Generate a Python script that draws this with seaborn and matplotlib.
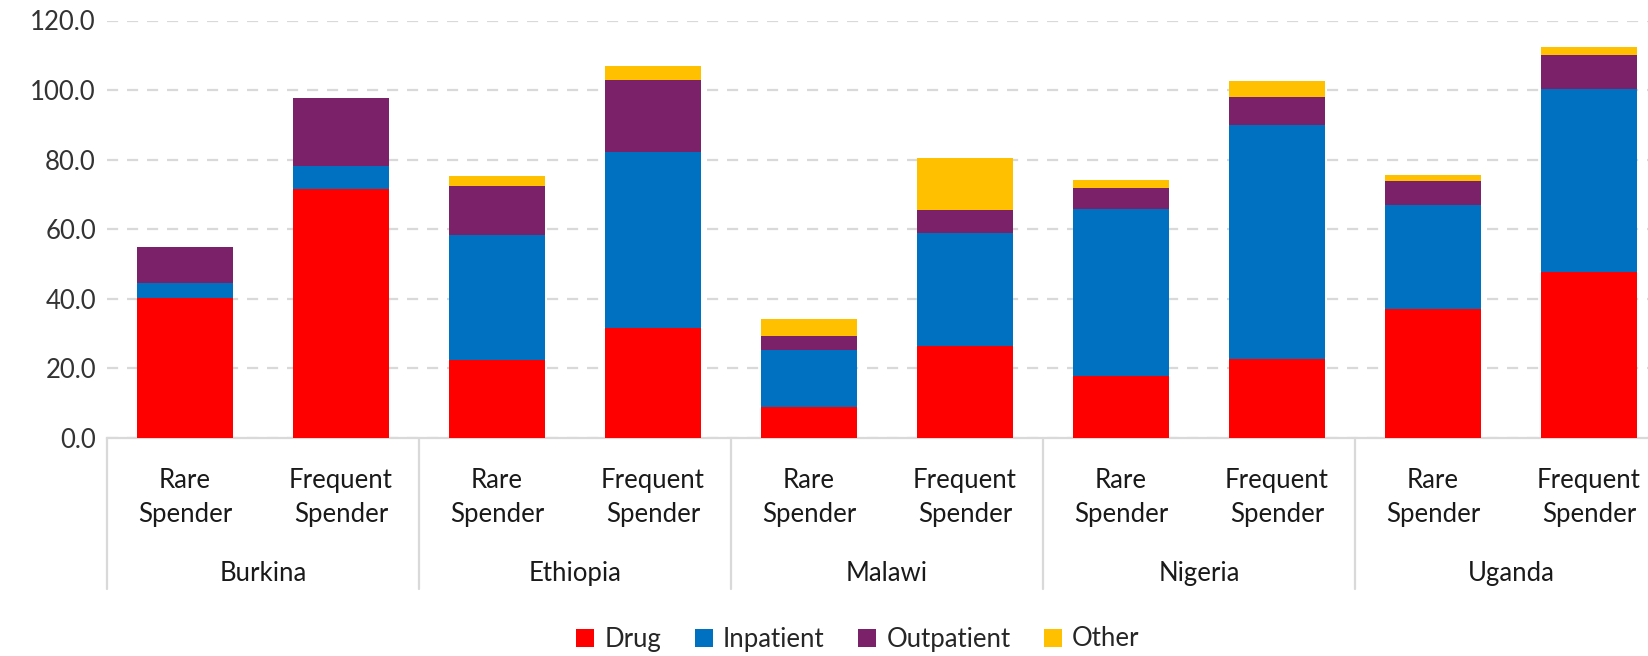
import matplotlib
matplotlib.use("Agg")
import matplotlib.pyplot as plt
import matplotlib.transforms as mtransforms
from matplotlib.patches import Patch
import numpy as np
import pandas as pd
import seaborn as sns

countries = ["Burkina", "Ethiopia", "Malawi", "Nigeria", "Uganda"]
groups = ["Rare\nSpender", "Frequent\nSpender"]
series = ["Drug", "Inpatient", "Outpatient", "Other"]
drug       = [40.3, 71.5, 22.4, 31.6,  8.7, 26.5, 17.8, 22.6, 37.1, 47.8]
inpatient  = [ 4.2,  6.7, 35.9, 50.5, 16.6, 32.3, 48.1, 67.4, 29.7, 52.5]
outpatient = [10.3, 19.6, 14.2, 20.9,  3.9,  6.7,  6.0,  8.0,  7.1,  9.8]
other      = [ 0.0,  0.0,  2.9,  4.0,  4.8, 15.0,  2.3,  4.6,  1.6,  2.4]
colors = ["#FF0000", "#0070C0", "#7B2169", "#FFC000"]

sns.set_theme(style="white")
plt.rcParams["font.family"] = ["Lato", "DejaVu Sans"]

keys = [f"{c}|{g}" for c in countries for g in groups]
vals = np.array([drug, inpatient, outpatient, other])
cum = np.cumsum(vals, axis=0)
df = pd.DataFrame({"key": keys})
for s, row in zip(series, cum):
    df[s] = row

fig = plt.figure(figsize=(16.48, 6.56), dpi=100)
ax = fig.add_axes([107 / 1648, 218.3 / 656, 1560 / 1648, 417.2 / 656])

for s, col in reversed(list(zip(series, colors))):
    sns.barplot(data=df, x="key", y=s, order=keys, color=col, width=0.62,
                saturation=1, ax=ax, zorder=3, linewidth=0)

FS = 18.5
ax.set_ylim(0, 120)
ax.set_xlim(-0.5, len(keys) - 0.5)
ax.set_yticks(np.arange(0, 121, 20))
ax.set_yticklabels([f"{v:.1f}" for v in np.arange(0, 121, 20)], fontsize=FS, color="#333333")
ax.tick_params(axis="y", length=0, pad=8)
ax.set_xticks([])
ax.set_xlabel("")
ax.set_ylabel("")
ax.yaxis.grid(True, color="#d9d9d9", linestyle=(0, (5, 4)), linewidth=1.6, zorder=0)
ax.set_axisbelow(True)
for side in ["left", "right", "top"]:
    ax.spines[side].set_visible(False)
ax.spines["bottom"].set_color("#d9d9d9")
ax.spines["bottom"].set_linewidth(1.6)

trans = mtransforms.blended_transform_factory(ax.transData, ax.transAxes)
for b in np.arange(-0.5, len(keys), 2):
    ax.plot([b, b], [0, -0.363], transform=trans, color="#d9d9d9", lw=1.6, clip_on=False)
for i, k in enumerate(keys):
    ax.text(i, -0.143, k.split("|")[1], transform=trans, ha="center", va="center",
            fontsize=FS, color="#1a1a1a", linespacing=1.45)
for j, c in enumerate(countries):
    ax.text(2 * j + 0.5, -0.325, c, transform=trans, ha="center", va="center",
            fontsize=FS, color="#1a1a1a")

handles = [Patch(facecolor=col, edgecolor="none") for col in colors]
fig.legend(handles, series, loc="center", bbox_to_anchor=(858 / 1648, 1 - 639 / 656),
           ncol=4, frameon=False, fontsize=FS, handlelength=0.7, handleheight=0.7,
           handletextpad=0.4, columnspacing=1.3)

fig.savefig("out.png", dpi=100)
